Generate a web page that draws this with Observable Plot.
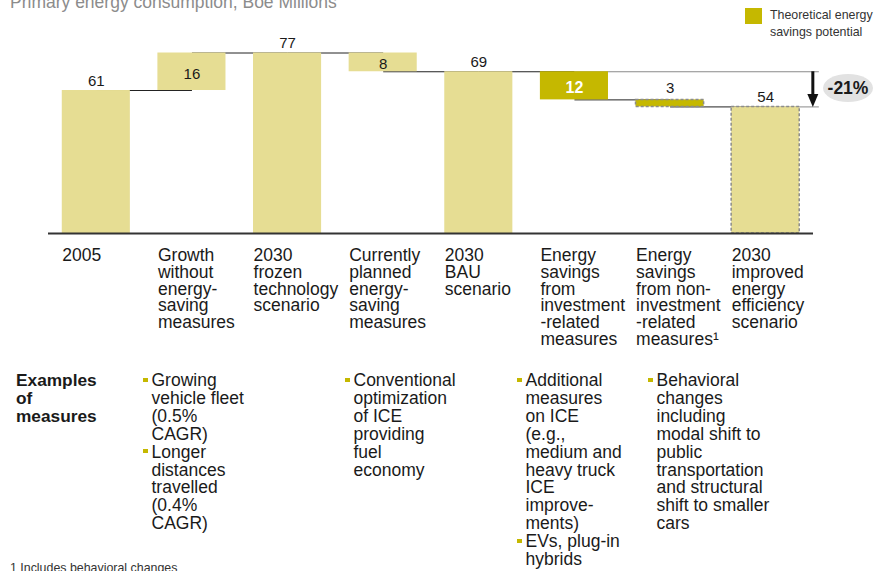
<!DOCTYPE html>
<html><head><meta charset="utf-8">
<script src="https://cdn.jsdelivr.net/npm/d3@7"></script>
<script src="https://cdn.jsdelivr.net/npm/@observablehq/plot@0.6"></script>
<style>
body{margin:0;background:#fff;font-family:Arial,"Liberation Sans",sans-serif;}
#wrap{position:relative;width:876px;height:571px;overflow:hidden;}
#chart{position:absolute;left:0;top:0;}
.sub{position:absolute;left:10px;top:-8px;font-size:17.5px;line-height:20px;color:#8c8c8c;white-space:nowrap;}
.legend{position:absolute;left:745px;top:8px;}
.legend .sw{position:absolute;left:0;top:0;width:17px;height:16px;background:#c5b800;}
.legend .tx{position:absolute;left:25px;top:-1px;font-size:12.4px;line-height:16.5px;color:#333;white-space:nowrap;}
.badge{position:absolute;left:823px;top:74px;width:50px;height:28px;border-radius:50%;background:#e2e2e2;font-weight:bold;font-size:17.5px;line-height:28px;text-align:center;color:#1a1a1a;white-space:nowrap;}
.col{position:absolute;top:372px;font-size:17.5px;line-height:17.9px;color:#1a1a1a;white-space:pre;}
.col.head{font-weight:bold;font-size:17.3px;}
.item{position:relative;padding-left:8.5px;}
.item::before{content:"";position:absolute;left:0;top:5.8px;width:5px;height:4px;background:#c5b800;}
.foot{position:absolute;left:10px;top:561px;font-size:12.4px;line-height:15px;color:#333;white-space:nowrap;}
</style></head>
<body>
<div id="wrap">
  <div id="chart"></div>
  <div class="sub" id="sub"></div>
  <div class="legend"><div class="sw"></div><div class="tx" id="legtx"></div></div>
  <div class="badge" id="badge"></div>
  <div id="examples"></div>
  <div class="foot" id="foot"></div>
</div>
<script>
const subtitle = "Primary energy consumption, Boe Millions";
const legendLabel = "Theoretical energy\nsavings potential";
const changeLabel = "-21%";
const footnote = "1 Includes behavioral changes";

const categories = [
  "2005",
  "Growth\nwithout\nenergy-\nsaving\nmeasures",
  "2030\nfrozen\ntechnology\nscenario",
  "Currently\nplanned\nenergy-\nsaving\nmeasures",
  "2030\nBAU\nscenario",
  "Energy\nsavings\nfrom\ninvestment\n-related\nmeasures",
  "Energy\nsavings\nfrom non-\ninvestment\n-related\nmeasures\u00B9",
  "2030\nimproved\nenergy\nefficiency\nscenario"
];
const values = [61, 16, 77, -8, 69, -12, -3, 54];
const isTotal = [true, false, true, false, true, false, false, true];
const isSavingsPotential = [false, false, false, false, false, true, true, false];
const dependsOnNonInvestment = [false, false, false, false, false, false, true, true];

const examplesHeading = "Examples\nof\nmeasures";
const exampleColumns = [
  {left: 143, items: ["Growing\nvehicle fleet\n(0.5%\nCAGR)", "Longer\ndistances\ntravelled\n(0.4%\nCAGR)"]},
  {left: 345, items: ["Conventional\noptimization\nof ICE\nproviding\nfuel\neconomy"]},
  {left: 517, items: ["Additional\nmeasures\non ICE\n(e.g.,\nmedium and\nheavy truck\nICE\nimprove-\nments)", "EVs, plug-in\nhybrids"]},
  {left: 648, items: ["Behavioral\nchanges\nincluding\nmodal shift to\npublic\ntransportation\nand structural\nshift to smaller\ncars"]}
];

const PALE = "#e6dd93", OLIVE = "#c5b800", INK = "#1a1a1a";
const HALF = 0.356;

let run = 0;
const rows = values.map((v, i) => {
  let a, b;
  if (isTotal[i]) { a = 0; b = v; run = v; }
  else { a = run; b = run + v; run = run + v; }
  const lo = Math.min(a, b), hi = Math.max(a, b);
  const inside = !isTotal[i] && (hi - lo) >= 5;
  return {i, label: categories[i], value: v, lo, hi, mid: (lo + hi) / 2, level: run,
    total: isTotal[i], savings: isSavingsPotential[i], dashed: dependsOnNonInvestment[i],
    text: String(Math.abs(v)), inside};
});
const baseRow = rows[rows.findIndex(d => d.savings) - 1];
const endRow = rows[rows.length - 1];
const refLines = [
  {x1: baseRow.i + 1, x2: endRow.i + 0.556, y: baseRow.value},
  {x1: endRow.i, x2: endRow.i + 0.556, y: endRow.value}
];
const arrowHead = {draw(ctx) { ctx.moveTo(-5.5, -13); ctx.lineTo(5.5, -13); ctx.lineTo(0, 0); ctx.closePath(); }};

const chart = Plot.plot({
  width: 876, height: 350,
  marginLeft: 48, marginRight: 63, marginTop: 0, marginBottom: 117,
  x: {domain: [-0.5, 7.5], axis: null},
  y: {domain: [0, 99.4], axis: null},
  style: {fontFamily: "Arial, 'Liberation Sans', sans-serif", background: "#fff", overflow: "visible"},
  marks: [
    Plot.link(refLines, {x1: "x1", x2: "x2", y1: "y", y2: "y", stroke: "#8a8a8a", strokeWidth: 1}),
    Plot.link(rows.slice(0, -1), {x1: "i", x2: d => d.i + 1, y1: "level", y2: "level", stroke: "#222", strokeWidth: 1}),
    Plot.rectY(rows, {x1: d => d.i - HALF, x2: d => d.i + HALF, y1: "lo", y2: "hi", fill: d => d.savings ? OLIVE : PALE}),
    Plot.rectY(rows.filter(d => d.dashed), {x1: d => d.i - HALF, x2: d => d.i + HALF, y1: "lo", y2: "hi",
      fill: "none", stroke: "#8c8c8c", strokeWidth: 1.5, strokeDasharray: "3,2"}),
    Plot.ruleY([0], {stroke: "#333", strokeWidth: 2}),
    Plot.text(rows.filter(d => d.total), {x: "i", y: "hi", text: "text", dy: -9.5, fontSize: 15, fill: INK}),
    Plot.text(rows.filter(d => !d.total && !d.inside), {x: "i", y: "hi", text: "text", dy: -12, fontSize: 15, fill: INK}),
    Plot.text(rows.filter(d => d.inside && !d.savings), {x: "i", y: "mid", text: "text", dy: 2, fontSize: 15, fill: INK}),
    Plot.text(rows.filter(d => d.inside && d.savings), {x: "i", y: "mid", text: "text", dy: 2, fontSize: 16, fill: "#fff", fontWeight: "bold"}),
    Plot.text(rows, {x: "i", y: 0, text: "label", textAnchor: "start", lineAnchor: "top", dx: -34, dy: 15,
      fontSize: 17.5, lineHeight: 0.97, fill: INK}),
    Plot.ruleX([endRow], {x: d => d.i + 0.493, y1: baseRow.value, y2: d => d.value + 4, stroke: "#111", strokeWidth: 3}),
    Plot.dot([endRow], {x: d => d.i + 0.493, y: "value", symbol: arrowHead, r: 5, fill: "#111", stroke: "none"})
  ]
});
document.getElementById("chart").appendChild(chart);

document.getElementById("sub").textContent = subtitle;
document.getElementById("legtx").innerHTML = legendLabel.replace(/\n/g, "<br>");
document.getElementById("badge").textContent = changeLabel;
document.getElementById("foot").textContent = footnote;

const ex = document.getElementById("examples");
const head = document.createElement("div");
head.className = "col head"; head.style.left = "16px"; head.textContent = examplesHeading;
ex.appendChild(head);
exampleColumns.forEach(c => {
  const col = document.createElement("div");
  col.className = "col"; col.style.left = c.left + "px";
  c.items.forEach(t => { const it = document.createElement("div"); it.className = "item"; it.textContent = t; col.appendChild(it); });
  ex.appendChild(col);
});
</script>
</body></html>
